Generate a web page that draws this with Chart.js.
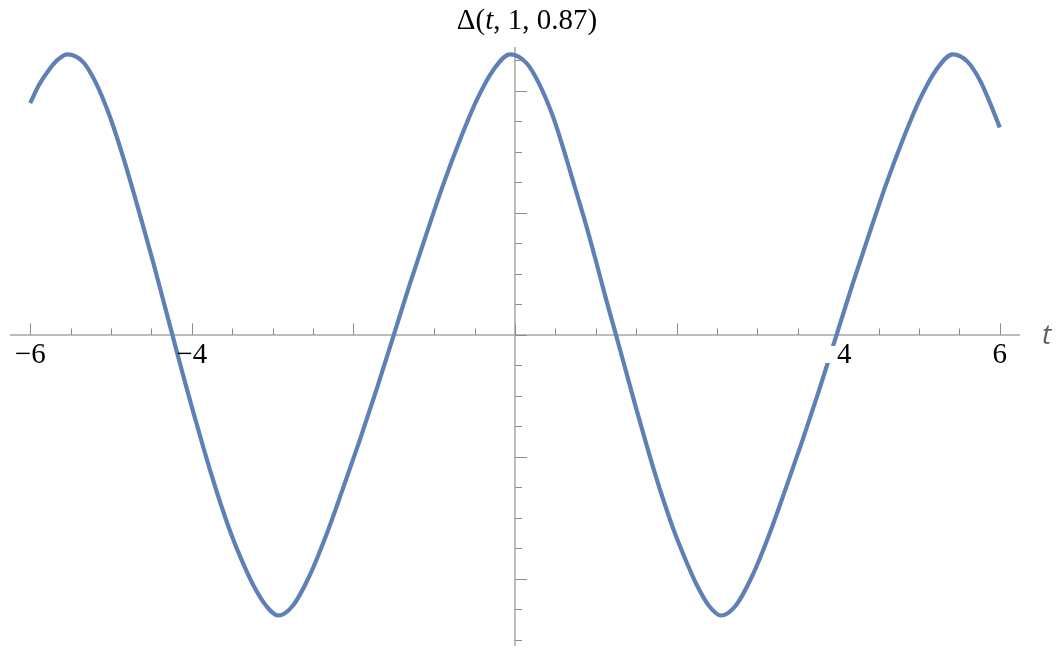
<!DOCTYPE html>
<html>
<head>
<meta charset="utf-8">
<script src="https://cdn.jsdelivr.net/npm/chart.js@4.4.0/dist/chart.umd.min.js"></script>
<style>
  body { margin: 0; background: #fff; }
  #wrap { width: 1062px; height: 649px; position: relative; }
</style>
</head>
<body>
<div id="wrap"><canvas id="deltaChart"></canvas></div>
<script>
// values (t on x, delta on y, arbitrary y units)
var tValues = [
  -6.00, -5.89, -5.76, -5.65, -5.54, -5.35, -5.19, -5.02, -4.86, -4.73,
  -4.61, -4.48, -4.36, -4.24, -4.12, -4.00, -3.88, -3.76, -3.64, -3.52,
  -3.40, -3.24, -3.08, -2.93, -2.75, -2.54, -2.33, -2.13, -1.92, -1.71,
  -1.50, -1.30, -1.09, -0.89, -0.68, -0.47, -0.27, -0.06, 0.14, 0.29,
  0.47, 0.62, 0.75, 0.88, 1.00, 1.12, 1.25, 1.37, 1.49, 1.61,
  1.73, 1.85, 1.97, 2.09, 2.25, 2.40, 2.55, 2.73, 2.94, 3.15,
  3.35, 3.56, 3.77, 3.98, 4.18, 4.39, 4.59, 4.80, 5.01, 5.21,
  5.42, 5.60, 5.76, 5.88, 6.00
];
var deltaValues = [
  1.90, 2.05, 2.18, 2.26, 2.30, 2.24, 2.07, 1.80, 1.48, 1.19,
  0.91, 0.60, 0.30, 0.00, -0.30, -0.59, -0.87, -1.14, -1.39, -1.62,
  -1.82, -2.05, -2.22, -2.30, -2.22, -1.97, -1.63, -1.26, -0.86, -0.44,
  0.00, 0.42, 0.84, 1.23, 1.60, 1.93, 2.17, 2.30, 2.23, 2.07,
  1.79, 1.48, 1.19, 0.90, 0.61, 0.31, 0.00, -0.29, -0.58, -0.86,
  -1.13, -1.38, -1.61, -1.81, -2.05, -2.22, -2.30, -2.22, -1.97, -1.63,
  -1.26, -0.86, -0.44, 0.00, 0.42, 0.84, 1.23, 1.60, 1.93, 2.17,
  2.30, 2.24, 2.08, 1.90, 1.70
];
var xTickLabels = [-6, -4, 4, 6];
var chartTitle = ['\u0394(', 't', ', 1, 0.87)'];
var xAxisLabel = 't';

var lineColor = '#5e81b5';
var axisColor = '#a6a6a6';
var tickColor = '#8c8c8c';

var points = tValues.map((t, i) => ({x: t, y: deltaValues[i]}));

// Mathematica style axes through the origin, drawn by hand from the scales
var mmaAxes = {
  id: 'mmaAxes',
  beforeDatasetsDraw(chart) {
    var ctx = chart.ctx;
    var xs = chart.scales.x, ys = chart.scales.y;
    var area = chart.chartArea;
    var x0 = xs.getPixelForValue(0), y0 = ys.getPixelForValue(0);
    ctx.save();
    ctx.strokeStyle = axisColor;
    ctx.lineWidth = 1.5;
    ctx.beginPath();
    ctx.moveTo(area.left, y0); ctx.lineTo(area.right, y0);
    ctx.moveTo(x0, area.top); ctx.lineTo(x0, area.bottom);
    ctx.stroke();

    ctx.strokeStyle = tickColor;
    ctx.lineWidth = 1;
    ctx.beginPath();
    // x ticks every 0.5, major every 2, drawn upward
    for (var k = -12; k <= 12; k++) {
      var v = k * 0.5;
      var px = Math.round(xs.getPixelForValue(v)) + 0.5;
      var len = (k % 4 === 0) ? 11.5 : 6.5;
      ctx.moveTo(px, y0); ctx.lineTo(px, y0 - len);
    }
    // y ticks every 0.25, major every 1, drawn to the right
    for (var j = -10; j <= 9; j++) {
      var vy = j * 0.25;
      var py = Math.round(ys.getPixelForValue(vy)) + 0.5;
      var ylen = (j % 4 === 0) ? 12 : 7;
      ctx.moveTo(x0, py); ctx.lineTo(x0 + ylen, py);
    }
    ctx.stroke();
    ctx.restore();
  },
  afterDatasetsDraw(chart) {
    var ctx = chart.ctx;
    var xs = chart.scales.x, ys = chart.scales.y;
    var y0 = ys.getPixelForValue(0);
    ctx.save();
    ctx.font = '29px "Liberation Serif", "DejaVu Serif", serif';
    ctx.textBaseline = 'middle';
    ctx.textAlign = 'center';
    xTickLabels.forEach(v => {
      var txt = v < 0 ? '\u2212' + Math.abs(v) : String(v);
      var px = xs.getPixelForValue(v);
      var w = ctx.measureText(txt).width;
      if (v === 4) {
        // this label sits a little right and hides part of the curve
        px += 6;
        ctx.fillStyle = '#fff';
        ctx.fillRect(px - w / 2 - 12, y0 + 11, w + 12, 17);
      }
      ctx.fillStyle = '#000';
      ctx.fillText(txt, px, y0 + 20);
    });

    // axis label
    ctx.font = 'italic 28px "Open Sans", "DejaVu Sans", sans-serif';
    ctx.fillStyle = '#606060';
    ctx.textAlign = 'left';
    ctx.fillText(xAxisLabel, 1042, y0 + 1);

    // title, with italic t
    var fonts = ['29px "Liberation Serif", serif', 'italic 29px "Liberation Serif", serif', '29px "Liberation Serif", serif'];
    var widths = chartTitle.map((s, i) => { ctx.font = fonts[i]; return ctx.measureText(s).width; });
    var total = widths.reduce((a, b) => a + b, 0);
    var cx = (chart.chartArea.left + chart.chartArea.right) / 2 + 12;
    var x = cx - total / 2;
    ctx.fillStyle = '#000';
    chartTitle.forEach((s, i) => {
      ctx.font = fonts[i];
      ctx.fillText(s, x, 21);
      x += widths[i];
    });
    ctx.restore();
  }
};

var ctxDelta = document.getElementById('deltaChart').getContext('2d');
var deltaChart = new Chart(ctxDelta, {
  type: 'line',
  data: {
    datasets: [{
      label: 'Delta',
      data: points,
      borderColor: lineColor,
      borderWidth: 4.2,
      pointRadius: 0,
      fill: false,
      cubicInterpolationMode: 'monotone',
      clip: false
    }]
  },
  options: {
    responsive: true,
    maintainAspectRatio: false,
    animation: false,
    layout: { padding: { left: 10, right: 42, top: 47, bottom: 3 } },
    scales: {
      x: { type: 'linear', min: -6.25, max: 6.25, display: false },
      y: { type: 'linear', min: -2.55, max: 2.36, display: false }
    },
    plugins: {
      legend: { display: false },
      tooltip: { enabled: false },
      title: { display: false }
    }
  },
  plugins: [mmaAxes]
});
</script>
</body>
</html>
